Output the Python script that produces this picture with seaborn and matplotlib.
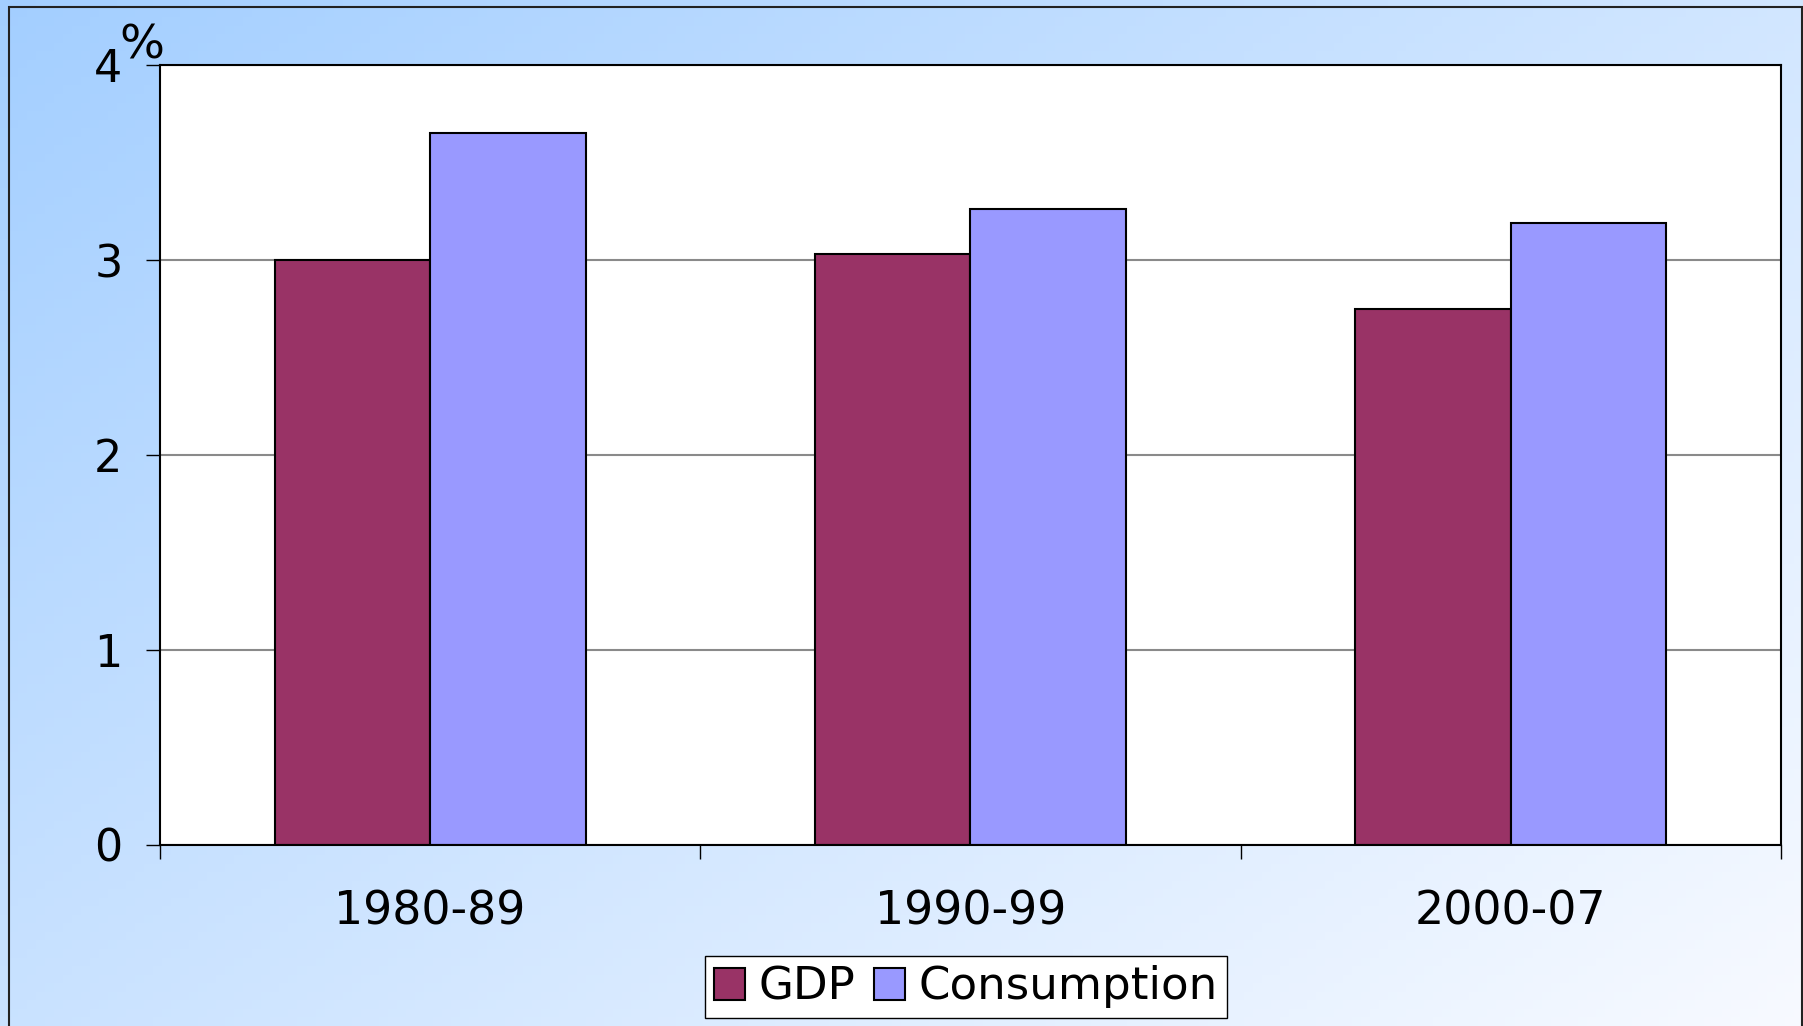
import numpy as np
import pandas as pd
import seaborn as sns
import matplotlib.pyplot as plt
from matplotlib.patches import Rectangle

periods = ["1980-89", "1990-99", "2000-07"]
gdp = [3.0, 3.03, 2.75]
consumption = [3.65, 3.26, 3.19]
series = ["GDP", "Consumption"]
colors = ["#993366", "#9999FF"]
yticks = [0, 1, 2, 3, 4]

df = pd.DataFrame({
    "period": periods * 2,
    "series": [series[0]] * 3 + [series[1]] * 3,
    "value": gdp + consumption,
})

sns.set_style("white")
plt.rcParams["font.family"] = ["DejaVu Sans"]
plt.rcParams["text.color"] = "black"
plt.rcParams["xtick.color"] = "black"
plt.rcParams["ytick.color"] = "black"

W, H = 1803, 1026
fig = plt.figure(figsize=(W / 100, H / 100), dpi=100)

# gradient background over the whole figure
bg = fig.add_axes([0, 0, 1, 1], zorder=-10)
gx, gy = np.meshgrid(np.linspace(0, 1, 200), np.linspace(0, 1, 120))
t = np.clip(0.55 * gx + 0.45 * gy, 0, 1)[..., None]
c0 = np.array([0.64, 0.81, 1.0])
c1 = np.array([0.97, 0.98, 1.0])
bg.imshow(c0 * (1 - t) + c1 * t, aspect="auto", extent=[0, 1, 1, 0])
bg.set_axis_off()
fig.patches.append(Rectangle((9 / W, -0.01), (W - 10) / W, 1 - 7 / H + 0.01,
                             transform=fig.transFigure, fill=False,
                             edgecolor="#222222", linewidth=1.5))

ax = fig.add_axes([160 / W, 1 - 845 / H, (1781 - 160) / W, 780 / H])
ax.set_facecolor("white")
sns.barplot(data=df, x="period", y="value", hue="series", palette=colors,
            width=0.575, edgecolor="black", linewidth=1.5, saturation=1,
            ax=ax, legend=True)

ax.set_ylim(0, 4)
ax.set_xlim(-0.5, 2.5)
ax.set_yticks(yticks)
ax.set_yticklabels([str(v) for v in yticks])
ax.yaxis.grid(True, color="#8a8a8a", linewidth=1.5)
ax.set_axisbelow(True)
ax.set_xticks([0, 1, 2])
ax.set_xticks([-0.5, 0.5, 1.5, 2.5], minor=True)
ax.tick_params(axis="x", which="major", length=0, pad=32, labelsize=33)
ax.tick_params(axis="x", which="minor", length=10, width=1, color="black",
               direction="out", bottom=True)
ax.tick_params(axis="y", length=10, width=1, color="black", direction="out",
               left=True, pad=17, labelsize=32)
ax.set_xlabel("")
ax.set_ylabel("")
for s in ax.spines.values():
    s.set_visible(True)
    s.set_color("black")
    s.set_linewidth(1.5)

fig.text(119 / W, 1 - 46 / H, "%", fontsize=34, va="center", ha="left")

handles, labels = ax.get_legend_handles_labels()
ax.legend(handles, labels, ncol=2, loc="center",
          bbox_to_anchor=(966 / W, 1 - 987 / H), bbox_transform=fig.transFigure,
          fontsize=32.5, frameon=True, fancybox=False, edgecolor="black",
          framealpha=1, handlelength=0.7, handleheight=0.7, handletextpad=0.3,
          columnspacing=0.4, borderpad=0.2, borderaxespad=0)

fig.savefig("out.png", dpi=100)
